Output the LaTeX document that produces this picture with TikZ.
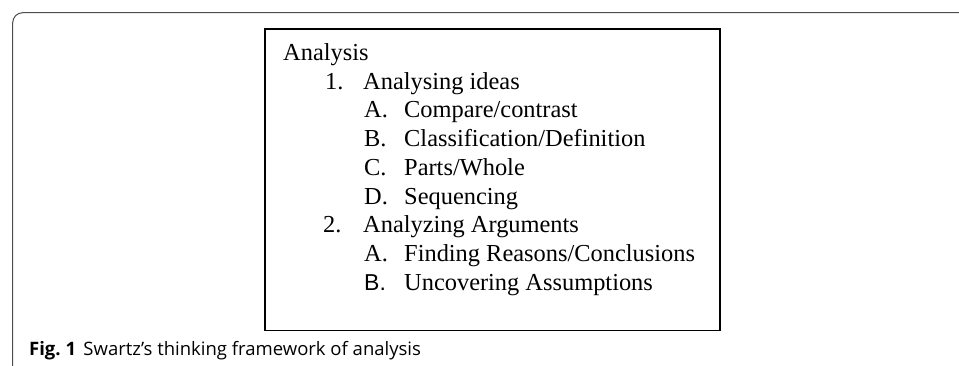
\documentclass[tikz,border=0pt]{standalone}
\usepackage{fontspec}
\setmainfont{Liberation Serif}
\setsansfont{Open Sans}
\newfontfamily\labelsans{Liberation Sans}
\tikzset{
  entry/.style={anchor=base west, inner sep=0pt, font=\fontsize{24.4}{28.7}\selectfont},
  caption/.style={anchor=base west, inner sep=0pt, font=\sffamily\fontsize{18.5}{22}\selectfont}
}
\begin{document}
\begin{tikzpicture}[x=1pt, y=-1pt]
\useasboundingbox (0,0) rectangle (959,365);
\draw [black!70, line width=1pt, rounded corners=10pt] (12.7,366) -- (12.7,12.7) -- (960,12.7);
\draw [line width=1.3pt] (265,29) rectangle (720,330.7);
\node [entry] (title) at (283,60.5) {Analysis};
\node [entry] (n1) at (325,89.2) {1.};
\node [entry] (ideas) at (363,89.2) {Analysing ideas};
\node [entry] (a1) at (364,117.9) {A.};
\node [entry] (compare) at (404,117.9) {Compare/contrast};
\node [entry] (b1) at (364,146.6) {B.};
\node [entry] (classify) at (404,146.6) {Classification/Definition};
\node [entry] (c1) at (364,175.3) {C.};
\node [entry] (parts) at (404,175.3) {Parts/Whole};
\node [entry] (d1) at (364,204) {D.};
\node [entry] (sequence) at (404,204) {Sequencing};
\node [entry] (n2) at (323,232.7) {2.};
\node [entry] (arguments) at (363,232.7) {Analyzing Arguments};
\node [entry] (a2) at (364,261.4) {A.};
\node [entry] (reasons) at (404,261.4) {Finding Reasons/Conclusions};
\node [entry, font=\labelsans\fontsize{23}{28.7}\selectfont] (b2) at (364,290.1) {B.};
\node [entry] (assume) at (404,290.1) {Uncovering Assumptions};
\node [caption] (fig) at (29,355) {\textbf{Fig.~1}\hspace{0.4em}Swartz’s thinking framework of analysis};
\end{tikzpicture}
\end{document}
